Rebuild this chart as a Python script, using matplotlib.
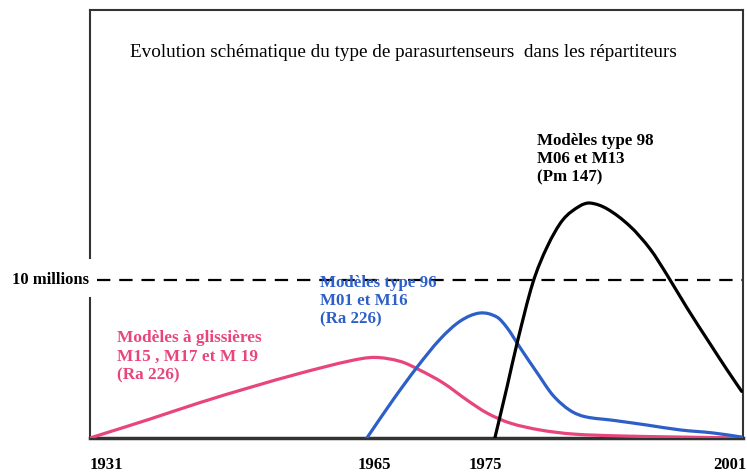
import matplotlib
matplotlib.use("Agg")
import matplotlib.pyplot as plt
from matplotlib.path import Path
from matplotlib.patches import PathPatch

# schematic time axis (0 = 1931, 100 = 2001), values in millions
pink_x = [0, 9.2, 16.9, 24.5, 32.2, 39.8, 43.6, 47.5, 50.5, 54.1, 57.7, 60.8, 64.3, 68.9, 74.0, 81.2, 90.4, 99.8]
pink_y = [0, 1.2, 2.25, 3.2, 4.1, 4.88, 5.1, 4.85, 4.30, 3.48, 2.41, 1.58, 0.95, 0.51, 0.25, 0.13, 0.06, 0]

blue_x = [42.4, 46.4, 50.1, 53.6, 56.7, 59.7, 62.3, 63.9, 65.8, 68.5, 70.9, 73.5, 75.8, 80.1, 85.3, 90.4, 95.4, 99.8]
blue_y = [0, 2.41, 4.49, 6.25, 7.4, 7.91, 7.66, 6.96, 5.76, 4.11, 2.7, 1.75, 1.35, 1.12, 0.82, 0.51, 0.32, 0.06]

black_x = [62.0, 63.9, 65.4, 67.8, 70.0, 72.4, 75.0, 76.6, 79.2, 82.7, 85.8, 88.4, 91.4, 94.9, 97.5, 99.8]
black_y = [0, 3.3, 6.0, 9.8, 12.09, 13.8, 14.68, 14.87, 14.5, 13.4, 11.95, 10.3, 8.25, 6.0, 4.35, 2.95]

threshold = 10
tick_pos = [0, 43.6, 60.5, 100.6]
tick_labels = ["1931", "1965", "1975", "2001"]
tick_ha = ["left", "center", "center", "right"]

title = "Evolution schématique du type de parasurtenseurs  dans les répartiteurs"
pink_label = "Modèles à glissières\nM15 , M17 et M 19\n(Ra 226)"
blue_label = "Modèles type 96\nM01 et M16\n(Ra 226)"
black_label = "Modèles type 98\nM06 et M13\n(Pm 147)"

pink = "#e8457c"
blue = "#2d5fc8"


def smooth_path(xs, ys):
    # cubic hermite bezier through the points, slopes from neighbours
    n = len(xs)
    m = []
    for i in range(n):
        a = max(i - 1, 0)
        b = min(i + 1, n - 1)
        m.append((ys[b] - ys[a]) / (xs[b] - xs[a]))
    verts = [(xs[0], ys[0])]
    codes = [Path.MOVETO]
    for i in range(n - 1):
        h = xs[i + 1] - xs[i]
        verts += [(xs[i] + h / 3, ys[i] + m[i] * h / 3),
                  (xs[i + 1] - h / 3, ys[i + 1] - m[i + 1] * h / 3),
                  (xs[i + 1], ys[i + 1])]
        codes += [Path.CURVE4] * 3
    return Path(verts, codes)


plt.rcParams["font.family"] = ["Liberation Serif", "DejaVu Serif"]

fig = plt.figure(figsize=(7.47, 4.74), dpi=100)
ax = fig.add_axes([90 / 747, 36 / 474, 653 / 747, 428 / 474])
ax.set_xlim(0, 100)
ax.set_ylim(0, 428 / 15.8)

for xs, ys, col, z in [(pink_x, pink_y, pink, 3), (blue_x, blue_y, blue, 3),
                       (black_x, black_y, "black", 4)]:
    ax.add_patch(PathPatch(smooth_path(xs, ys), facecolor="none", edgecolor=col,
                           lw=2.3, capstyle="round", joinstyle="round", zorder=z))

# 10 million reference line
ax.plot([1.1, 100], [threshold, threshold], color="black", lw=1.6,
        dashes=(6, 4), zorder=2)
ax.text(-0.2, threshold, "10 millions", ha="right", va="center",
        fontsize=12, fontweight="bold")

# frame
for side in ["top", "right"]:
    ax.spines[side].set_color("#333333")
    ax.spines[side].set_linewidth(1.5)
ax.spines["bottom"].set_color("#333333")
ax.spines["bottom"].set_linewidth(2.5)
ax.spines["left"].set_visible(False)
ax.axvline(0, ymin=0, ymax=0.327, color="#333333", lw=1.5, clip_on=False)
ax.axvline(0, ymin=0.42, ymax=1, color="#333333", lw=1.5, clip_on=False)

ax.set_xticks([])
ax.set_yticks([])
for pos, lab, ha in zip(tick_pos, tick_labels, tick_ha):
    ax.text(pos, -1.71, lab, ha=ha, va="center", fontsize=12,
            fontweight="bold", clip_on=False)

ax.text(48.0, 24.37, title, ha="center", va="center", fontsize=13.8)
ax.text(4.1, 6.85, pink_label, ha="left", va="top", fontsize=12.4,
        fontweight="bold", color=pink, linespacing=1.25)
ax.text(35.2, 10.3, blue_label, ha="left", va="top", fontsize=12.2,
        fontweight="bold", color=blue, linespacing=1.17)
ax.text(68.5, 19.3, black_label, ha="left", va="top", fontsize=12.2,
        fontweight="bold", color="black", linespacing=1.2)

fig.savefig("out.png", dpi=100)
